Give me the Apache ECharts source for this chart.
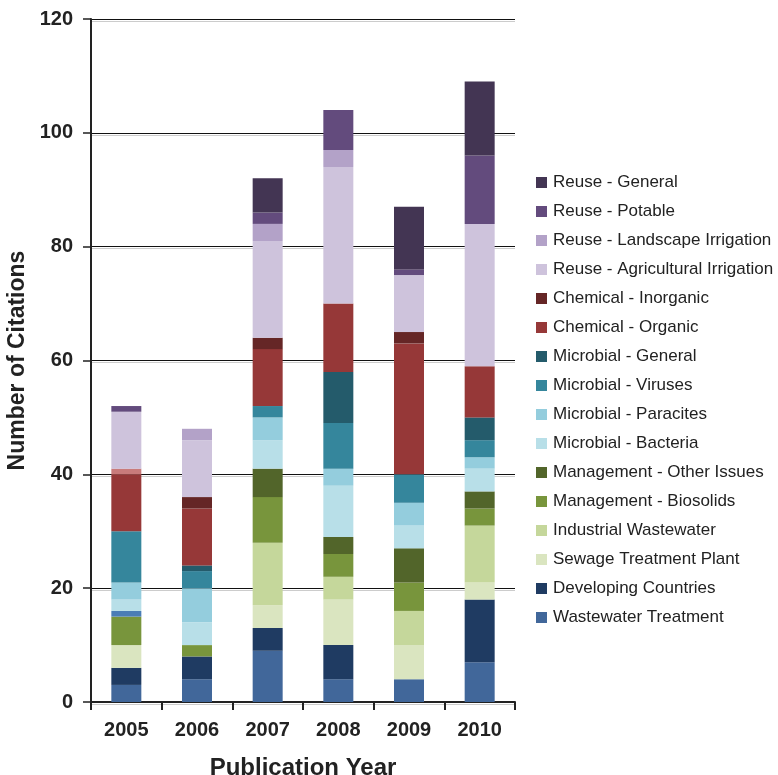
<!DOCTYPE html>
<html>
<head>
<meta charset="utf-8">
<script src="https://cdn.jsdelivr.net/npm/echarts@6/dist/echarts.min.js"></script>
<style>
  html, body { margin: 0; padding: 0; background: #fff; }
  #chart { width: 778px; height: 775px; }
</style>
</head>
<body>
<div id="chart"></div>
<script>
// Publication years on the category axis
const years = ['2005', '2006', '2007', '2008', '2009', '2010'];

// Citation counts per topic, one value per year (stacked bottom to top)
const wastewaterTreatment   = [3, 4, 9, 4, 4, 7];
const developingCountries   = [3, 4, 4, 6, 0, 11];
const sewageTreatmentPlant  = [4, 0, 4, 8, 6, 3];
const industrialWastewater  = [0, 0, 11, 4, 6, 10];
const mgmtBiosolids         = [5, 2, 8, 4, 5, 3];
const mgmtOtherIssues       = [1, 0, 5, 3, 6, 3];
const micBacteria           = [2, 4, 5, 9, 4, 4];
const micParacites          = [3, 6, 4, 3, 4, 2];
const micViruses            = [9, 3, 2, 8, 5, 3];
const micGeneral            = [0, 1, 0, 9, 0, 4];
const chemOrganic           = [10, 10, 10, 12, 23, 9];
const chemInorganic         = [1, 2, 2, 0, 2, 0];
const reuseAgricultural     = [10, 10, 17, 24, 10, 25];
const reuseLandscape        = [0, 2, 3, 3, 0, 0];
const reusePotable          = [1, 0, 2, 7, 1, 12];
const reuseGeneral          = [0, 0, 6, 0, 11, 13];

// Y axis range
const yMin = 0, yMax = 120, yStep = 20;

const topics = [
  { name: 'Wastewater Treatment',          data: wastewaterTreatment,  color: '#41679A' },
  { name: 'Developing Countries',          data: developingCountries,  color: '#1F3B62' },
  { name: 'Sewage Treatment Plant',        data: sewageTreatmentPlant, color: '#DAE5C0' },
  { name: 'Industrial Wastewater',         data: industrialWastewater, color: '#C5D79B' },
  { name: 'Management - Biosolids',        data: mgmtBiosolids,        color: '#78953C' },
  { name: 'Management - Other Issues',     data: mgmtOtherIssues,      color: '#52652A', odd: { 0: '#4A7DB6' } },
  { name: 'Microbial - Bacteria',          data: micBacteria,          color: '#B8DFE8' },
  { name: 'Microbial - Paracites',         data: micParacites,         color: '#94CDDD' },
  { name: 'Microbial - Viruses',           data: micViruses,           color: '#35869C' },
  { name: 'Microbial - General',           data: micGeneral,           color: '#245B6B' },
  { name: 'Chemical - Organic',            data: chemOrganic,          color: '#963838' },
  { name: 'Chemical - Inorganic',          data: chemInorganic,        color: '#652626', odd: { 0: '#C97B7B' } },
  { name: 'Reuse - Agricultural Irrigation', data: reuseAgricultural,  color: '#CEC3DC' },
  { name: 'Reuse - Landscape Irrigation',  data: reuseLandscape,       color: '#B3A2C8' },
  { name: 'Reuse - Potable',               data: reusePotable,         color: '#634B7D' },
  { name: 'Reuse - General',               data: reuseGeneral,         color: '#433553' }
];

const FONT = '"Liberation Sans", Arial, Helvetica, sans-serif';

const series = topics.map(t => ({
  name: t.name,
  type: 'bar',
  stack: 'total',
  barWidth: 30,
  itemStyle: { color: t.color },
  emphasis: { disabled: true },
  data: t.data.map((v, i) => (t.odd && t.odd[i])
    ? { value: v, itemStyle: { color: t.odd[i] } }
    : v)
}));

const chart = echarts.init(document.getElementById('chart'), null, { renderer: 'canvas' });
chart.setOption({
  animation: false,
  backgroundColor: '#fff',
  grid: { left: 91, right: 263, top: 19, bottom: 73, containLabel: false, outerBoundsMode: 'none' },
  legend: {
    orient: 'vertical',
    left: 531,
    top: 169,
    itemWidth: 11,
    itemHeight: 11,
    itemGap: 12,
    icon: 'rect',
    data: topics.map(t => t.name).reverse(),
    textStyle: { fontFamily: FONT, fontSize: 17, color: '#222', lineHeight: 17, padding: [0, 0, 0, 1] }
  },
  xAxis: {
    type: 'category',
    data: years,
    name: 'Publication Year',
    nameLocation: 'middle',
    nameGap: 54,
    nameTextStyle: { fontFamily: FONT, fontSize: 24, fontWeight: 'bold', color: '#222' },
    axisLine: { lineStyle: { color: '#222', width: 2 } },
    axisTick: { show: true, alignWithLabel: false, length: 8, lineStyle: { color: '#222', width: 2 } },
    axisLabel: { fontFamily: FONT, fontSize: 20, fontWeight: 'bold', color: '#222', margin: 18 }
  },
  yAxis: {
    type: 'value',
    min: yMin,
    max: yMax,
    interval: yStep,
    name: 'Number of Citations',
    nameLocation: 'middle',
    nameGap: 58,
    nameRotate: 90,
    nameTextStyle: { fontFamily: FONT, fontSize: 23, fontWeight: 'bold', color: '#222' },
    axisLine: { show: true, lineStyle: { color: '#222', width: 2 } },
    axisTick: { show: true, length: 8, lineStyle: { color: '#222', width: 1.5 } },
    axisLabel: { fontFamily: FONT, fontSize: 20, fontWeight: 'bold', color: '#222', margin: 18 },
    splitLine: {
      show: true,
      lineStyle: { color: '#111', width: 1.2, shadowColor: 'rgba(0,0,0,0.2)', shadowOffsetY: 2, shadowBlur: 0 }
    }
  },
  series: series
});
</script>
</body>
</html>
